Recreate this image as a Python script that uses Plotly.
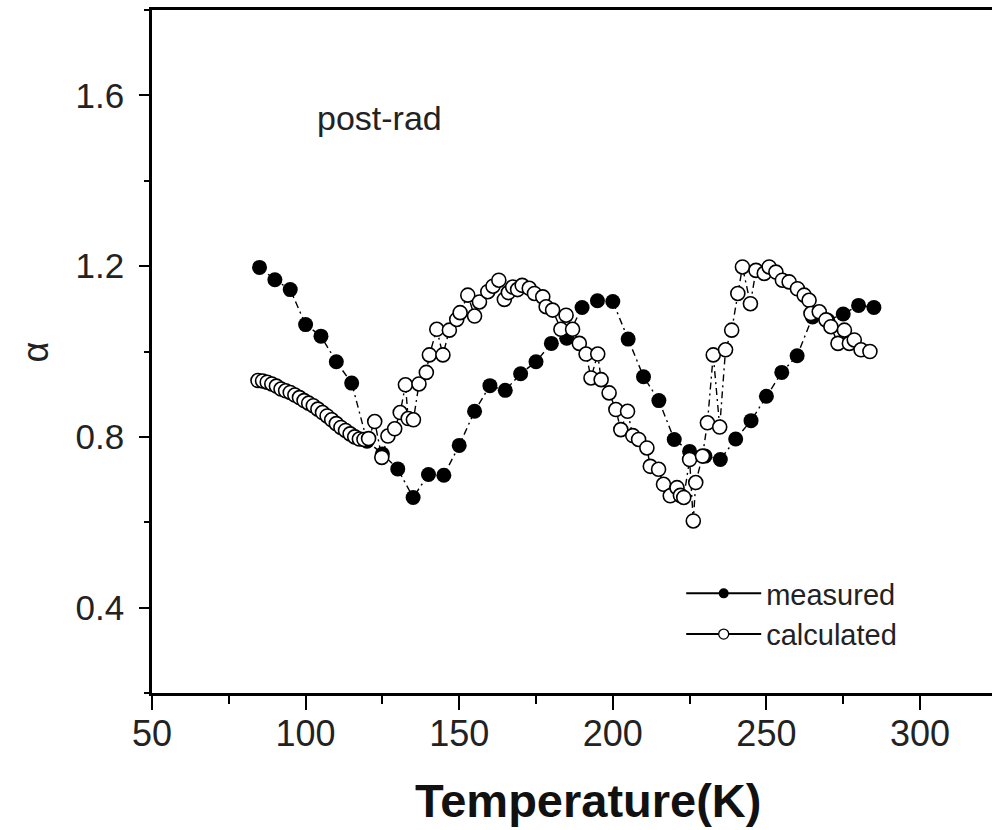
import plotly.graph_objects as go

# Measured alpha vs temperature (filled circles)
T_measured = [85, 90, 95, 100, 105, 110, 115, 120, 125, 130, 135, 140, 145, 150,
              155, 160, 165, 170, 175, 180, 185, 190, 195, 200, 205, 210, 215,
              220, 225, 230, 235, 240, 245, 250, 255, 260, 265, 270, 275, 280, 285]
alpha_measured = [1.197, 1.168, 1.145, 1.063, 1.036, 0.976, 0.926, 0.79, 0.76,
                  0.725, 0.658, 0.712, 0.710, 0.780, 0.860, 0.920, 0.909, 0.948,
                  0.976, 1.019, 1.031, 1.103, 1.119, 1.117, 1.029, 0.941, 0.885,
                  0.794, 0.766, 0.755, 0.747, 0.795, 0.838, 0.895, 0.951, 0.990,
                  1.081, 1.073, 1.088, 1.108, 1.103]

# Calculated alpha vs temperature (open circles)
T_calculated = [84.5, 86.0, 87.5, 89.0, 90.5, 92.0, 93.5, 95.0, 96.5, 98.0, 99.5,
                101.0, 102.5, 104.0, 105.5, 107.0, 108.5, 110.0, 111.5, 113.0,
                114.5, 116.0, 117.5, 119.0, 120.5, 122.5, 124.8, 126.8, 129.0,
                130.8, 132.5, 133.4, 135.1, 136.9, 139.3, 140.3, 142.7, 144.7,
                146.8, 149.2, 150.3, 152.8, 155.0, 156.6, 159.3, 161.0, 162.9,
                164.7, 166.0, 167.4, 169.0, 170.5, 172.8, 174.5, 177.2, 178.3,
                180.4, 183.1, 184.8, 186.9, 189.1, 191.3, 192.9, 195.1, 196.2,
                198.8, 201.0, 202.6, 204.8, 206.5, 208.4, 211.1, 212.2, 214.9,
                216.5, 218.7, 220.9, 222.0, 223.1, 225.0, 226.2, 227.0, 229.2,
                230.8, 232.7, 234.8, 236.7, 238.7, 240.7, 242.2, 244.8, 246.6,
                249.3, 250.9, 253.1, 255.2, 257.4, 260.1, 262.3, 263.9, 264.5,
                267.2, 269.4, 271.0, 273.3, 275.4, 277.0, 278.6, 280.8, 283.7]
alpha_calculated = [0.932, 0.931, 0.928, 0.924, 0.919, 0.912, 0.908, 0.904,
                    0.898, 0.892, 0.885, 0.879, 0.873, 0.865, 0.857, 0.849,
                    0.840, 0.831, 0.822, 0.815, 0.807, 0.800, 0.795, 0.794,
                    0.796, 0.836, 0.752, 0.802, 0.819, 0.857, 0.922, 0.843,
                    0.840, 0.924, 0.951, 0.992, 1.052, 0.992, 1.050, 1.075,
                    1.091, 1.132, 1.083, 1.116, 1.140, 1.153, 1.167, 1.122,
                    1.138, 1.151, 1.145, 1.155, 1.148, 1.136, 1.128, 1.105,
                    1.097, 1.052, 1.085, 1.052, 1.019, 0.994, 0.938, 0.994,
                    0.934, 0.903, 0.864, 0.817, 0.860, 0.803, 0.794, 0.774,
                    0.731, 0.724, 0.689, 0.662, 0.681, 0.663, 0.658, 0.747,
                    0.603, 0.693, 0.755, 0.833, 0.992, 0.823, 1.004, 1.050,
                    1.136, 1.198, 1.112, 1.190, 1.183, 1.198, 1.186, 1.167,
                    1.163, 1.147, 1.132, 1.120, 1.089, 1.093, 1.074, 1.058,
                    1.019, 1.050, 1.019, 1.027, 1.004, 1.000]

FONT = "Liberation Sans, Arial, sans-serif"
DASH = "7px,4px,2px,4px"

fig = go.Figure()

fig.add_trace(go.Scatter(
    x=T_measured, y=alpha_measured, mode="lines+markers",
    line=dict(color="black", width=1.4, dash=DASH),
    marker=dict(symbol="circle", size=15, color="black"),
    showlegend=False,
))
fig.add_trace(go.Scatter(
    x=T_calculated, y=alpha_calculated, mode="lines+markers",
    line=dict(color="black", width=1.4, dash=DASH),
    marker=dict(symbol="circle", size=14, color="white",
                line=dict(color="black", width=1.6)),
    showlegend=False,
))

# Legend entries with solid connector lines
fig.add_trace(go.Scatter(
    x=[None], y=[None], mode="lines+markers", name="measured",
    line=dict(color="black", width=2),
    marker=dict(symbol="circle", size=10, color="black"),
))
fig.add_trace(go.Scatter(
    x=[None], y=[None], mode="lines+markers", name="calculated",
    line=dict(color="black", width=2),
    marker=dict(symbol="circle", size=10, color="white",
                line=dict(color="black", width=1.3)),
))

fig.update_layout(
    width=992, height=830,
    margin=dict(l=152, r=0, t=10, b=137),
    paper_bgcolor="white", plot_bgcolor="white",
    font=dict(family=FONT, color="black"),
    showlegend=True,
    legend=dict(
        x=0.63, y=0.183, xanchor="left", yanchor="top",
        bgcolor="rgba(0,0,0,0)", borderwidth=0,
        font=dict(size=29, family=FONT, color="#222"),
        itemwidth=75, tracegroupgap=0,
    ),
    annotations=[
        dict(text="post-rad", x=0.271, y=0.842, xref="paper", yref="paper",
             xanchor="center", yanchor="middle", showarrow=False,
             font=dict(size=34, family=FONT, color="#222")),
        dict(text="<b>Temperature(K)</b>", x=0.519, y=-0.157,
             xref="paper", yref="paper", xanchor="center", yanchor="middle",
             showarrow=False, font=dict(size=47, family=FONT, color="#111")),
        dict(text="α", x=-0.139, y=0.499, xref="paper", yref="paper",
             xanchor="center", yanchor="middle", showarrow=False,
             textangle=-90, font=dict(size=36, family=FONT, color="#222")),
    ],
)

fig.update_xaxes(
    range=[50, 50 + 840 / 3.072],
    tickmode="linear", tick0=50, dtick=50,
    ticks="outside", ticklen=14, tickwidth=2, tickcolor="black",
    minor=dict(dtick=25, tick0=50, ticks="outside", ticklen=8,
               tickwidth=2, tickcolor="black"),
    showline=True, linewidth=2.5, linecolor="black", mirror=True,
    showgrid=False, zeroline=False, ticklabelstandoff=-7,
    tickfont=dict(size=36, family=FONT, color="#222"),
)
fig.update_yaxes(
    range=[0.2, 1.8],
    tickmode="linear", tick0=0.4, dtick=0.4, tickformat=".1f",
    ticks="outside", ticklen=10, tickwidth=2, tickcolor="black",
    minor=dict(dtick=0.2, tick0=0.2, ticks="outside", ticklen=5,
               tickwidth=2, tickcolor="black"),
    showline=True, linewidth=2.5, linecolor="black",
    showgrid=False, zeroline=False, ticklabelstandoff=8,
    tickfont=dict(size=35, family=FONT, color="#222"),
)

fig.write_html("out.html")
